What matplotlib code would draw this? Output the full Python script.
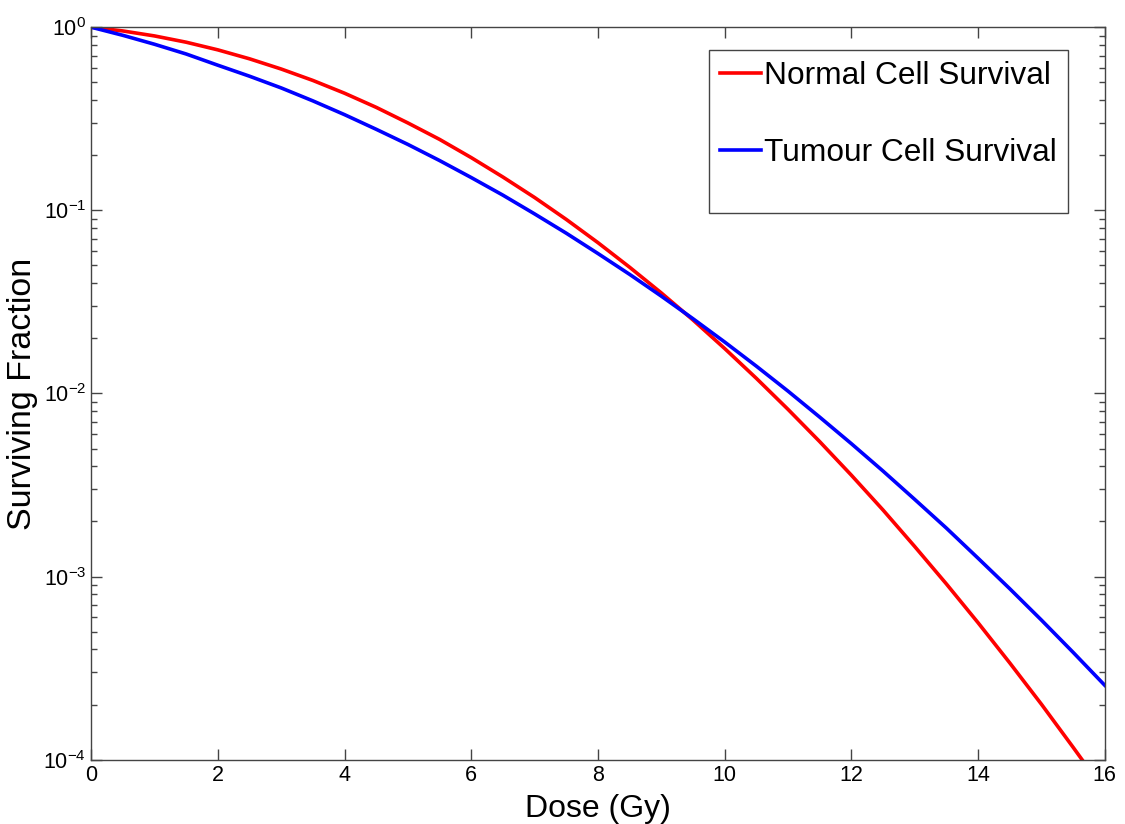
import matplotlib.pyplot as plt
from matplotlib.patches import Rectangle
from matplotlib.ticker import LogLocator, FixedLocator

plt.rcParams["font.family"] = ["Liberation Sans", "DejaVu Sans"]
plt.rcParams["axes.unicode_minus"] = False

# dose values (Gy) and surviving fractions
DOSE = [0, 0.5, 1, 1.5, 2, 2.5, 3, 3.5, 4, 4.5, 5, 5.5, 6, 6.5, 7, 7.5, 8,
        8.5, 9, 9.5, 10, 10.5, 11, 11.5, 12, 12.5, 13, 13.5, 14, 14.5, 15,
        15.5, 16]
NORMAL = [1.0, 0.954, 0.896, 0.828, 0.752, 0.672, 0.591, 0.512, 0.436,
          0.365, 0.300, 0.244, 0.194, 0.152, 0.1175, 0.0892, 0.0666, 0.0489,
          0.0354, 0.0252, 0.0176, 0.0121, 0.00819, 0.00546, 0.00358,
          0.00231, 0.00146, 0.000912, 0.000560, 0.000338, 0.000201,
          0.000117, 0.0000674]
TUMOUR = [1.0, 0.903, 0.807, 0.714, 0.620, 0.540, 0.466, 0.396, 0.333,
          0.277, 0.229, 0.187, 0.151, 0.121, 0.0956, 0.0750, 0.0581, 0.0447,
          0.0340, 0.0256, 0.0191, 0.0141, 0.0103, 0.00743, 0.00532, 0.00377,
          0.00264, 0.00184, 0.00126, 0.000859, 0.000579, 0.000386, 0.000255]
X_TICKS = [0, 2, 4, 6, 8, 10, 12, 14, 16]

fig = plt.figure(figsize=(11.25, 8.24), dpi=100)
ax = fig.add_axes([0.081, 0.078, 0.901, 0.889])

ax.plot(DOSE, NORMAL, color="#ff0000", linewidth=2.6, label="Normal Cell Survival")
ax.plot(DOSE, TUMOUR, color="#0000ff", linewidth=2.6, label="Tumour Cell Survival")

ax.set_yscale("log")
ax.set_xlim(0, 16)
ax.set_ylim(1e-4, 1)
ax.xaxis.set_major_locator(FixedLocator(X_TICKS))
ax.yaxis.set_major_locator(LogLocator(base=10, numticks=10))
ax.yaxis.set_minor_locator(LogLocator(base=10, subs=range(2, 10), numticks=10))

ax.tick_params(which="both", direction="in", top=True, right=True,
               labelsize=15.5, color="#444444")
ax.tick_params(which="major", length=7.7, width=1)
ax.tick_params(which="minor", length=4.3, width=1)
for s in ax.spines.values():
    s.set_color("#444444")
    s.set_linewidth(1)

ax.set_xlabel("Dose (Gy)", fontsize=23, labelpad=6)
ax.set_ylabel("Surviving Fraction", fontsize=24.5, labelpad=4)

# legend box like MATLAB's, with the extra room below the entries
ax.add_patch(Rectangle((0.610, 0.746), 0.3535, 0.2226, transform=ax.transAxes,
                       facecolor="white", edgecolor="#444444", linewidth=1,
                       zorder=4))
leg = ax.legend(loc="upper left", bbox_to_anchor=(0.610, 0.9686), fontsize=22.8,
                frameon=False, handlelength=1.3, handletextpad=0.1,
                labelspacing=1.5, borderpad=0.33, borderaxespad=0)
leg.set_zorder(5)
for h in leg.get_lines():
    h.set_linewidth(2.6)

fig.savefig("out.png", dpi=100)
